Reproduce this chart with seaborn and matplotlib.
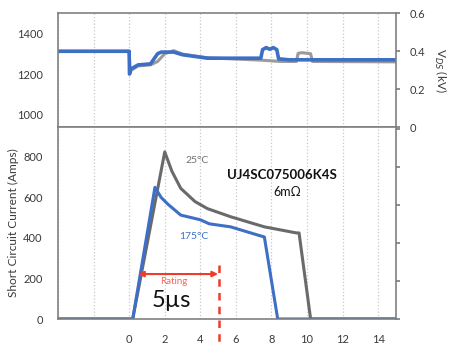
import numpy as np
import pandas as pd
import matplotlib
matplotlib.use("Agg")
import matplotlib.pyplot as plt
import seaborn as sns

# ---- data ----
v_blue_t = [-4, 0, 0.02, 0.1, 0.5, 1.2, 1.6, 1.8, 2.5, 3.0, 4.4, 7.4, 7.5, 7.7, 7.9, 8.1, 8.3, 8.4, 9, 15]
v_blue = [1312, 1312, 1200, 1225, 1245, 1250, 1300, 1308, 1308, 1295, 1278, 1278, 1320, 1330, 1322, 1330, 1320, 1275, 1270, 1270]
v_gray_t = [-4, 0, 0.05, 0.5, 1.2, 1.6, 2.0, 2.5, 3.0, 4.4, 7.5, 8.5, 9.4, 9.5, 9.7, 10.2, 10.3, 15]
v_gray = [1312, 1312, 1215, 1240, 1245, 1262, 1300, 1315, 1298, 1280, 1268, 1262, 1262, 1302, 1305, 1300, 1262, 1260]

i_gray_t = [-4, 0.2, 2.0, 2.4, 2.9, 3.7, 4.4, 5.7, 7.6, 9.4, 9.55, 10.2, 15]
i_gray = [0, 0, 825, 730, 645, 580, 545, 505, 455, 425, 425, 0, 0]
i_blue_t = [-4, 0.2, 1.45, 1.8, 2.2, 2.9, 4.0, 4.5, 5.7, 7.4, 7.6, 8.35, 15]
i_blue = [0, 0, 650, 600, 565, 513, 490, 470, 455, 410, 405, 0, 0]

x_ticks = [-4, -2, 0, 2, 4, 6, 8, 10, 12, 14]
x_labels = ["", "", "0", "2", "4", "6", "8", "10", "12", "14"]
v_ticks = [1000, 1200, 1400]
kv_ticks = [0, 0.2, 0.4, 0.6]
i_ticks = [0, 200, 400, 600, 800]

BLUE = "#3d6fc6"
GRAY_TOP = "#9a9a9a"
GRAY = "#6a6a6a"
SPINE = "#808080"
TXT = "#3a3a3a"

sns.set_theme(style="white")
plt.rcParams['font.family'] = ['Lato', 'DejaVu Sans']

fig = plt.figure(figsize=(4.58, 3.48), dpi=100)
L, R = 58 / 458, 396 / 458
ax_top = fig.add_axes([L, 1 - 127 / 348, R - L, (127 - 13) / 348])
ax_bot = fig.add_axes([L, 1 - 319 / 348, R - L, (319 - 127) / 348])

df_v = pd.concat([
    pd.DataFrame({"t": v_gray_t, "v": v_gray, "s": "gray"}),
    pd.DataFrame({"t": v_blue_t, "v": v_blue, "s": "blue"}),
])
df_i = pd.concat([
    pd.DataFrame({"t": i_gray_t, "i": i_gray, "s": "gray"}),
    pd.DataFrame({"t": i_blue_t, "i": i_blue, "s": "blue"}),
])

sns.lineplot(data=df_v[df_v.s == "gray"], x="t", y="v", ax=ax_top, color=GRAY_TOP, lw=2.2, legend=False)
sns.lineplot(data=df_v[df_v.s == "blue"], x="t", y="v", ax=ax_top, color=BLUE, lw=2.6, legend=False)
sns.lineplot(data=df_i[df_i.s == "gray"], x="t", y="i", ax=ax_bot, color=GRAY, lw=2.2, legend=False)
sns.lineplot(data=df_i[df_i.s == "blue"], x="t", y="i", ax=ax_bot, color=BLUE, lw=2.2, legend=False)

for ax in (ax_top, ax_bot):
    ax.set_xlim(-4, 15)
    ax.set_xticks(x_ticks)
    ax.grid(True, axis="x", linestyle=":", color="#c8c8c8", lw=0.9)
    ax.grid(False, axis="y")
    ax.set_xlabel("")
    ax.set_ylabel("")
    for sp in ax.spines.values():
        sp.set_color(SPINE)
        sp.set_linewidth(1.2)
    ax.tick_params(axis="both", length=0, labelsize=8, labelcolor=TXT)
    ax.tick_params(axis="y", pad=11)

ax_top.set_xticklabels([])
ax_top.set_ylim(940, 1500)
ax_top.set_yticks(v_ticks)
ax_top.set_yticklabels([str(v) for v in v_ticks])

ax_top2 = ax_top.twinx()
ax_top2.set_ylim(0, 0.6)
ax_top2.set_yticks(kv_ticks)
ax_top2.set_yticklabels(["0", "0.2", "0.4", "0.6"])
ax_top2.tick_params(axis="y", length=3, color=SPINE, labelsize=8, labelcolor=TXT, pad=7)
for sp in ax_top2.spines.values():
    sp.set_visible(False)
ax_top2.set_ylabel("V$_{DS}$ (kV)", rotation=270, fontsize=8.5, color=TXT, labelpad=16)

ax_bot.set_ylim(0, 948)
ax_bot.set_yticks(i_ticks)
ax_bot.set_yticklabels([str(v) for v in i_ticks])
ax_bot.set_xticklabels(x_labels)
ax_bot.tick_params(axis="x", pad=11)
ax_bot.set_ylabel("Short Circuit Current (Amps)", fontsize=8.6, color=TXT, labelpad=3)

ax_bot2 = ax_bot.twinx()
ax_bot2.set_ylim(0, 1.01)
ax_bot2.set_yticks([0, 0.2, 0.4, 0.6, 0.8, 1.0])
ax_bot2.set_yticklabels([])
ax_bot2.tick_params(axis="y", length=3, color=SPINE)
for sp in ax_bot2.spines.values():
    sp.set_visible(False)

# annotations
ax_bot.text(3.8, 785, "25°C", color="#707070", fontsize=7.5, ha="center", va="center")
ax_bot.text(3.65, 405, "175°C", color=BLUE, fontsize=7.5, ha="center", va="center")
ax_bot.text(8.6, 711, "UJ4SC075006K4S", color="#111111", fontsize=9.5, fontweight="bold", ha="center", va="center")
ax_bot.text(8.9, 627, "6mΩ", color="#111111", fontsize=9, ha="center", va="center")
ax_bot.annotate("", xy=(0.5, 222), xytext=(5.0, 222),
                arrowprops=dict(arrowstyle="<|-|>", color="#f03a2a", lw=1.5, mutation_scale=8, shrinkA=0, shrinkB=0))
ax_bot.text(2.5, 183, "Rating", color="#f26a5a", fontsize=7, ha="center", va="center")
ax_bot.text(2.4, 89, "5µs", color="#111111", fontsize=17, ha="center", va="center")
ax_bot.plot([5.05, 5.05], [267, -118], color="#f03a2a", lw=1.8, ls=(0, (3, 2.5)), clip_on=False)

fig.savefig("out.png", dpi=100)
